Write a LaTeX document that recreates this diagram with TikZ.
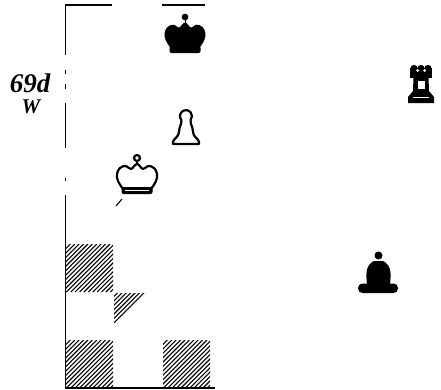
\documentclass[tikz,border=0pt]{standalone}
\usepackage{fontspec}
\newfontfamily\labelfont{Liberation Serif}
\usetikzlibrary{calc}

\begin{document}
\begin{tikzpicture}[
  x=1pt, y=-1pt,
  frame/.style={line width=1.3pt, black},
  hatch/.style={line width=1.1pt, black},
  caption/.style={inner sep=0pt, font=\labelfont\bfseries\itshape},
  blackpiece/.style={fill=black, draw=black, line width=0.6pt},
  whitepiece/.style={fill=white, draw=black, line width=2.2pt, line join=round},
  % king drawn as a crown, centred on the pic origin
  kingcrown/.pic={
    \path[pic actions] plot[smooth, tension=0.7] coordinates {
        (-14,15) (-19,7) (-20,0) (-17,-6) (-11,-8) (-6,-5) (0,-10)
        (6,-5) (11,-8) (17,-6) (20,0) (19,7) (14,15)}
      -- cycle;
    \fill[black, rounded corners=2pt] (-15.5,13) rectangle (15.5,20);
    \draw[pic actions, fill=none] (0,-10) -- (0,-13);
    \path[pic actions] (0,-16) circle (3);
  }
]
\useasboundingbox (0,0) rectangle (441,389);

% --- board edge (broken as printed) ---
\draw[frame] (112,5) -- (65.5,5) -- (65.5,55);
\draw[frame] (162,5) -- (205,5);
\draw[frame] (65.5,70) -- (65.5,74);
\draw[frame] (65.5,84) -- (65.5,89);
\draw[frame] (65.5,103) -- (65.5,148);
\draw[frame] (65.5,178) -- (65.5,181);
\draw[frame] (65.5,195) -- (65.5,388) -- (215,388);

% --- dark squares (hatched) ---
\foreach \sx/\sy in {66/340, 163/340, 66/244} {
  \begin{scope}
    \clip (\sx,\sy) rectangle ++(47,48);
    \foreach \k in {-48,-43.6,...,48}
      \draw[hatch] (\sx+\k,\sy+48) -- ++(48,-48);
  \end{scope}
}
\begin{scope}
  \clip (114,293) -- (146,293) -- (114,324) -- cycle;
  \foreach \k in {-48,-43.6,...,48}
    \draw[hatch] (114+\k,340) -- ++(48,-48);
\end{scope}
\draw[hatch] (116,206) -- (122,199);

% --- kings ---
\pic[blackpiece] (bk) at (185,33) {kingcrown};
\pic[whitepiece] (wk) at (137,174) {kingcrown};
\draw[white, line width=1pt] (125,190.5) -- (149,190.5);

% --- white pawn ---
\draw[whitepiece] (181.4,120) arc[start angle=140, end angle=400, radius=6]
  .. controls (190,124) and (193,127) .. (193,132)
  .. controls (193,137) and (199,139) .. (199,142) -- (199,144)
  -- (173,144) -- (173,142)
  .. controls (173,139) and (179,137) .. (179,132)
  .. controls (179,127) and (182,124) .. (181.4,120) -- cycle;

% --- black rook ---
\fill (410,68) rectangle (432,78);
\foreach \mx in {414,421,428} \fill (\mx,68.5) circle (3.6);
\fill (413.5,77) -- (428.5,77) -- (429,91) -- (434,97) -- (434,103)
  -- (408,103) -- (408,97) -- (413,91) -- cycle;
\fill[white] (417.5,70.5) circle (1.5) (424.5,70.5) circle (1.5);
\fill[white] (418,81) rectangle (424.5,89);
\draw[white, line width=0.8pt] (413,97.5) -- (429,97.5);

% --- black bishop ---
\fill (378.5,255.5) circle (4);
\fill plot[smooth, tension=0.7] coordinates {
    (374,261) (369,265) (366.5,273) (367,285)}
  -- (390,285)
  -- plot[smooth, tension=0.7] coordinates {
    (390,285) (390.5,273) (388,265) (383,261)} -- cycle;
\fill[rounded corners=4.5pt] (358,283.5) rectangle (398,293);

% --- diagram number and side to move ---
\node[caption, font=\labelfont\bfseries\itshape\fontsize{27}{27}\selectfont] (num) at (30,83) {69d};
\node[caption, font=\labelfont\bfseries\itshape\fontsize{21}{21}\selectfont] (side) at (31,107) {W};
\end{tikzpicture}
\end{document}
